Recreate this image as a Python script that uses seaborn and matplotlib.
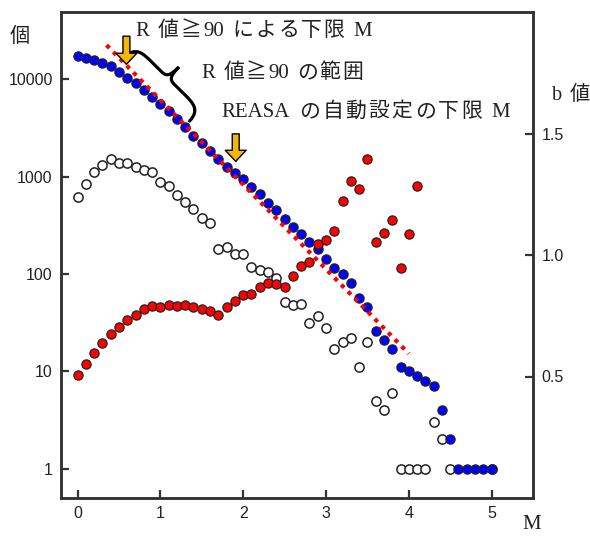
import numpy as np
import pandas as pd
import matplotlib
matplotlib.use("Agg")
import matplotlib.pyplot as plt
import seaborn as sns
from matplotlib.path import Path
from matplotlib.patches import PathPatch
from matplotlib.ticker import NullLocator, FixedLocator, FixedFormatter

# magnitude bins
mag = [0.0, 0.1, 0.2, 0.3, 0.4, 0.5, 0.6, 0.7, 0.8, 0.9,
       1.0, 1.1, 1.2, 1.3, 1.4, 1.5, 1.6, 1.7, 1.8, 1.9,
       2.0, 2.1, 2.2, 2.3, 2.4, 2.5, 2.6, 2.7, 2.8, 2.9,
       3.0, 3.1, 3.2, 3.3, 3.4, 3.5, 3.6, 3.7, 3.8, 3.9,
       4.0, 4.1, 4.2, 4.3, 4.4, 4.5, 4.6, 4.7, 4.8, 4.9, 5.0]

# cumulative count N(>=M)  (blue)
cum_count = [17400, 16600, 15700, 14750, 13550, 11900, 10400, 9180, 7720, 6600,
             5510, 4670, 3860, 3200, 2620, 2190, 1810, 1500, 1260, 1100,
             940, 784, 659, 537, 451, 365, 304, 260, 213, 179,
             144, 116, 99, 80, 57, 46, 26, 21, 17, 11,
             10, 9, 8, 7, 4, 2, 1, 1, 1, 1, 1]

# count per bin (open circles)
bin_count = [618, 836, 1117, 1318, 1510, 1383, 1373, 1240, 1172, 1117,
             876, 802, 640, 550, 459, 373, 330, 181, 187, 162,
             162, 117, 109, 105, 90, 52, 48, 49, 31, 37,
             28, 17, 20, 22, 11, 20, 5, 4, 6, 1,
             1, 1, 1, 3, 2, 1, None, None, None, None, 1]

# b value (red, right axis), M 0.0 - 4.1
b_mag = mag[:42]
b_value = [0.507, 0.551, 0.596, 0.637, 0.674, 0.705, 0.734, 0.754, 0.779, 0.790,
           0.786, 0.795, 0.790, 0.793, 0.786, 0.776, 0.770, 0.752, 0.788, 0.811,
           0.834, 0.838, 0.867, 0.886, 0.882, 0.868, 0.912, 0.954, 0.970, 1.044,
           1.060, 1.097, 1.222, 1.306, 1.272, 1.395, 1.053, 1.092, 1.143, 0.945,
           1.085, 1.282]

# G-R fit line (red dotted)
fit_mag = [0.35, 4.0]
fit_count = [22400, 15.2]

df = pd.DataFrame({"M": mag, "cum": cum_count,
                   "bin": pd.to_numeric(pd.Series(bin_count), errors="coerce")})
dfb = pd.DataFrame({"M": b_mag, "b": b_value})

sns.set_style("ticks")
plt.rcParams["font.family"] = ["Liberation Sans", "DejaVu Sans"]
jp = ["Liberation Serif", "Noto Sans CJK JP", "DejaVu Sans"]

W, H = 590, 536
fig = plt.figure(figsize=(W / 100, H / 100), dpi=100)
ax = fig.add_axes([61 / W, 38 / H, 472 / W, 486 / H])

sns.scatterplot(data=df, x="M", y="bin", ax=ax, s=44, color="white",
                edgecolor="#222222", linewidth=1.1, zorder=3)
sns.scatterplot(data=df, x="M", y="cum", ax=ax, s=44, color="#0000ff",
                edgecolor="#222222", linewidth=0.9, zorder=4)
sns.lineplot(x=fit_mag, y=fit_count, ax=ax, color="#ff0000", lw=3,
             linestyle=(0, (1, 1.3)), zorder=5)

ax.set_yscale("log")
ax.set_xlim(-0.2, 5.5)
ax.set_ylim(0.5, 10 ** 4.69)
ax.set_xticks([0, 1, 2, 3, 4, 5])
ax.yaxis.set_major_locator(FixedLocator([1, 10, 100, 1000, 10000]))
ax.yaxis.set_major_formatter(FixedFormatter(["1", "10", "100", "1000", "10000"]))
ax.yaxis.set_minor_locator(NullLocator())
ax.set_xlabel("")
ax.set_ylabel("")

ax2 = ax.twinx()
sns.scatterplot(data=dfb, x="M", y="b", ax=ax2, s=44, color="#ff0000",
                edgecolor="#222222", linewidth=0.9, zorder=6)
ax2.set_ylim(0, 2.0)
ax2.set_yticks([0.5, 1.0, 1.5])
ax2.set_yticklabels(["0.5", "1.0", "1.5"])
ax2.set_ylabel("")

for a in (ax, ax2):
    a.tick_params(direction="in", length=6, width=1.6, color="#333333",
                  labelcolor="#222222", labelsize=11.5, pad=6)
    for s in a.spines.values():
        s.set_linewidth(1.8)
        s.set_color("#333333")

# curly brace along the R >= 90 range
fig.canvas.draw()
d0 = ax.transData.transform((0.569, 16870))
d1 = ax.transData.transform((1.351, 3710))
u = d1 - d0
L = np.hypot(*u)
u = u / L
n = np.array([-u[1], u[0]])
w = 31.0
q = 0.24 * L
loc = [(0, 0), (0, w * 0.5), (q * 0.5, w * 0.5), (q, w * 0.5),
       (L / 2 - q * 0.4, w * 0.5),
       (L / 2 - q * 0.1, w * 0.5), (L / 2, w * 0.6), (L / 2, w),
       (L / 2, w * 0.6), (L / 2 + q * 0.1, w * 0.5), (L / 2 + q * 0.4, w * 0.5),
       (L - q, w * 0.5),
       (L - q * 0.5, w * 0.5), (L, w * 0.5), (L, 0)]
codes = [Path.MOVETO, Path.CURVE4, Path.CURVE4, Path.CURVE4, Path.LINETO,
         Path.CURVE4, Path.CURVE4, Path.CURVE4, Path.CURVE4, Path.CURVE4, Path.CURVE4,
         Path.LINETO, Path.CURVE4, Path.CURVE4, Path.CURVE4]
pts = np.array([d0 + s * u + t * n for s, t in loc])
pts = ax.transAxes.inverted().transform(pts)
ax.add_patch(PathPatch(Path(pts, codes), transform=ax.transAxes, fill=False,
                       lw=2.3, ec="black", capstyle="round", clip_on=False, zorder=7))

# arrows
arrow_kw = dict(arrowstyle="simple,head_width=0.75,head_length=0.4,tail_width=0.25",
                fc="#f5b50a", ec="black", lw=1.0, mutation_scale=20)
ax.annotate("", xy=(0.59, 13300), xytext=(0.59, 29500), arrowprops=arrow_kw, zorder=8)
ax.annotate("", xy=(1.91, 1340), xytext=(1.91, 2930), arrowprops=arrow_kw, zorder=8)

# texts with loose spacing between Japanese characters like the original
tc = "#222222"
renderer = fig.canvas.get_renderer()


def tokens(s):
    out, cur = [], ""
    for ch in s:
        if ch.isascii() and ch.isalnum():
            cur += ch
            continue
        if cur:
            out.append(cur)
            cur = ""
        out.append(ch)
    if cur:
        out.append(cur)
    return out


def spaced_text(x0, base, s, x1, size):
    space_w = size * 100 / 72 * 0.25
    parts = []
    for tok in tokens(s):
        if tok == " ":
            parts.append(None)
            continue
        t = fig.text(0, 0, tok, family=jp, fontsize=size, color=tc,
                     va="baseline", ha="left")
        parts.append((t, t.get_window_extent(renderer).width))
    natural = sum(p[1] for p in parts if p) + space_w * parts.count(None)
    gap = (x1 - x0 - natural) / max(len(parts) - 1, 1)
    x = x0
    for p in parts:
        if p is None:
            x += space_w + gap
            continue
        p[0].set_position((x / W, 1 - base / H))
        x += p[1] + gap


spaced_text(135, 36, "R 値≧90 による下限 M", 372, 15)
spaced_text(201, 78, "R 値≧90 の範囲", 363, 15)
spaced_text(221.5, 117, "REASA の自動設定の下限 M", 510, 15)
spaced_text(552, 100, "b 値", 590, 14.5)
fig.text(10 / W, 1 - 42 / H, "個", family=jp, fontsize=14.5, va="baseline",
         ha="left", color=tc)
fig.text(522 / W, 2 / H, "M", family=jp, fontsize=15, va="bottom", ha="left", color=tc)

fig.savefig("out.png", dpi=100)
